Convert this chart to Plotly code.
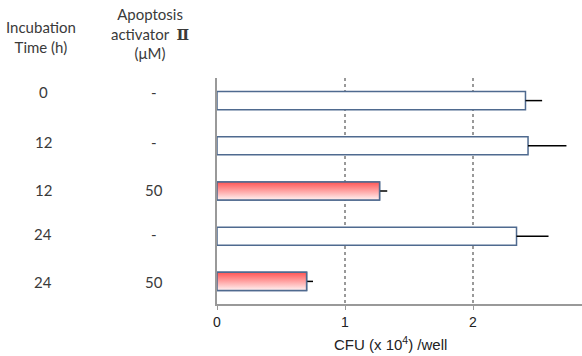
import plotly.graph_objects as go

incubation = ["0", "12", "12", "24", "24"]
activator = ["-", "-", "50", "-", "50"]
cfu = [2.41, 2.43, 1.27, 2.34, 0.70]
cfu_err = [0.13, 0.30, 0.06, 0.25, 0.05]
treated = [False, False, True, False, True]
x_ticks = [0, 1, 2]

OUTLINE = "#4f6a8f"
W, H = 582, 356
L, R, T, B = 217, 0, 78, 52
pw, ph = W - L - R, H - T - B

def px(xp):
    return (xp - L) / pw

def py(yp):
    return (H - B - yp) / ph

idx = list(range(len(cfu)))
fig = go.Figure()
fig.add_trace(go.Bar(
    x=cfu, y=idx, orientation="h", width=0.4,
    marker=dict(color=["rgba(0,0,0,0)" if t else "white" for t in treated],
                line=dict(color=OUTLINE, width=1.5)),
    error_x=dict(type="data", array=cfu_err, arrayminus=[0] * len(cfu),
                 symmetric=False, width=0, color="black", thickness=1.5),
    showlegend=False, hoverinfo="skip",
))
for i, (v, t) in enumerate(zip(cfu, treated)):
    if not t:
        continue
    fig.add_trace(go.Scatter(
        x=[0, v, v, 0, 0], y=[i - 0.2, i - 0.2, i + 0.2, i + 0.2, i - 0.2],
        mode="lines", fill="toself",
        line=dict(color=OUTLINE, width=1.5),
        fillgradient=dict(type="vertical",
                          colorscale=[[0, "#fff2f2"], [1, "#ff5555"]]),
        showlegend=False, hoverinfo="skip",
    ))

LF = dict(family="Lato, Open Sans, sans-serif", size=15, color="#3a3a3a")
ann = []
ann.append(dict(text="Incubation<br>Time (h)", x=px(41), y=py(37), font=LF))
ann.append(dict(text="Apoptosis<br>activator  <span style=\"font-family:'DejaVu Serif';font-weight:bold\">Ⅱ</span><br>(μM)",
                x=px(150), y=py(33), font=LF))
row_y = [92, 142, 190, 234, 282]
for i in idx:
    ann.append(dict(text=incubation[i], x=px(43), y=py(row_y[i]), font=LF))
    ann.append(dict(text=activator[i], x=px(154), y=py(row_y[i]), font=LF))
ann.append(dict(text="CFU (x 10<sup>4</sup>) /well", x=px(390), y=py(343),
                font=dict(family="Liberation Sans, Arial", size=15, color="#222222")))
for a in ann:
    a.update(xref="paper", yref="paper", showarrow=False, xanchor="center", yanchor="middle")

fig.update_layout(
    width=W, height=H, margin=dict(l=L, r=R, t=T, b=B),
    paper_bgcolor="white", plot_bgcolor="white",
    annotations=ann, bargap=0.6,
    xaxis=dict(range=[0, pw / 128], tickvals=x_ticks, showgrid=True,
               gridcolor="#999999", griddash="3px,3px", gridwidth=1.5,
               showline=True, linecolor="#999999", linewidth=1.5,
               ticks="outside", ticklen=4, tickcolor="#999999",
               tickfont=dict(family="Liberation Sans, Arial", size=14, color="#222222"),
               zeroline=False, fixedrange=True),
    yaxis=dict(range=[4.5, -0.5], showticklabels=False, showgrid=False,
               zeroline=False, showline=True, linecolor="#999999", linewidth=1.5,
               ticks=""),
)
fig.write_html("out.html")
